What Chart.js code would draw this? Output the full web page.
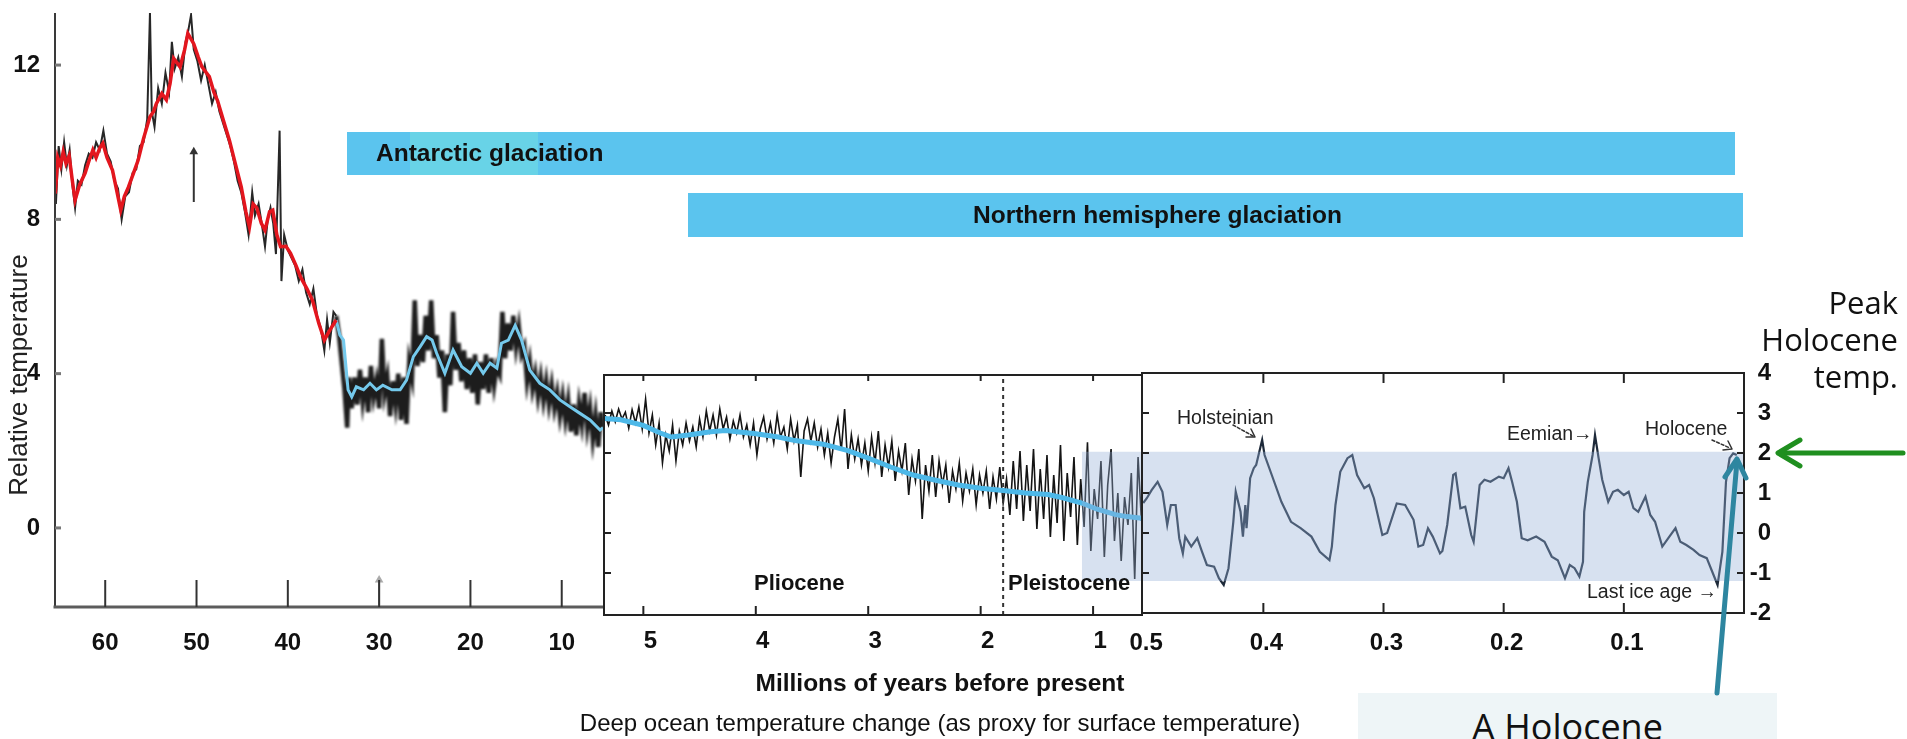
<!DOCTYPE html>
<html><head><meta charset="utf-8">
<script src="https://cdn.jsdelivr.net/npm/chart.js@4.4.1/dist/chart.umd.min.js"></script>
<style>
html,body{margin:0;padding:0;background:#fff;}
#wrap{position:relative;width:1907px;height:739px;overflow:hidden;background:#fff;font-family:'Liberation Sans',Arial,sans-serif;}
canvas{position:absolute;top:0;}
.t{position:absolute;white-space:nowrap;color:#111;}
.bar{position:absolute;background:#5BC4EE;}
.b{font-weight:bold;}
.cal{font-family:'Open Sans','Noto Sans',sans-serif;color:#111;}
svg{position:absolute;left:0;top:0;}
</style></head><body>
<div id="wrap">
 <div class="bar" style="left:347px;top:132px;width:1388px;height:43px;"></div>
 <div class="bar" style="left:410px;top:132px;width:128px;height:43px;background:#68D3E7;"></div>
 <div class="bar" style="left:688px;top:193px;width:1055px;height:44px;"></div>
 <canvas id="c1" width="620" height="739" style="left:0px"></canvas>
 <canvas id="c2" width="600" height="739" style="left:560px"></canvas>
 <canvas id="c3" width="700" height="739" style="left:1120px"></canvas>

 <div class="t b" style="left:376px;top:138px;font-size:24.5px;line-height:30px;">Antarctic glaciation</div>
 <div class="t b" style="left:973px;top:200px;font-size:24.5px;line-height:30px;">Northern hemisphere glaciation</div>
 <div class="t" style="left:-127px;top:359px;width:290px;text-align:center;font-size:26px;line-height:32px;color:#222;transform:rotate(-90deg);">Relative temperature</div>
 <div class="t b" style="left:754px;top:570px;font-size:22px;line-height:26px;">Pliocene</div>
 <div class="t b" style="left:1008px;top:570px;font-size:22px;line-height:26px;">Pleistocene</div>
 <div class="t b" style="left:640px;top:668px;width:600px;text-align:center;font-size:24.5px;line-height:30px;">Millions of years before present</div>
 <div class="t" style="left:490px;top:708px;width:900px;text-align:center;font-size:24px;line-height:30px;">Deep ocean temperature change (as proxy for surface temperature)</div>
 <div class="t" style="left:1177px;top:405px;font-size:19.5px;line-height:24px;color:#222;">Holsteinian</div>
 <div class="t" style="left:1507px;top:421px;font-size:19.5px;line-height:24px;color:#222;">Eemian&#8594;</div>
 <div class="t" style="left:1645px;top:416px;font-size:19.5px;line-height:24px;color:#222;">Holocene</div>
 <div class="t" style="left:1587px;top:579px;font-size:19.5px;line-height:24px;color:#222;">Last ice age &#8594;</div>
 <div class="t cal" style="right:9px;top:284px;font-size:31px;line-height:37px;text-align:right;">Peak<br>Holocene<br>temp.</div>
 <div class="t cal" style="left:1358px;top:693px;width:419px;height:60px;background:#EEF5F7;text-align:center;font-size:36px;line-height:44px;padding-top:12px;box-sizing:border-box;">A Holocene</div>

 <svg width="1907" height="739" viewBox="0 0 1907 739">
  <g fill="none" stroke-linecap="round" stroke-linejoin="round">
   <line x1="1903" y1="453" x2="1780" y2="453" stroke="#1F8F1F" stroke-width="5"/>
   <polyline points="1800,440 1778,453 1800,466" stroke="#1F8F1F" stroke-width="5"/>
   <line x1="1717" y1="693" x2="1737" y2="461" stroke="#2E86A0" stroke-width="5"/>
   <polyline points="1725,477 1737,459 1746,478" stroke="#2E86A0" stroke-width="5"/>
   <line x1="1233" y1="425" x2="1253" y2="436" stroke="#333" stroke-width="1.5" stroke-dasharray="3,2"/>
   <polyline points="1246,437 1255,437 1251,429" stroke="#333" stroke-width="1.5"/>
   <line x1="1712" y1="440" x2="1730" y2="448" stroke="#333" stroke-width="1.5" stroke-dasharray="3,2"/>
   <polyline points="1723,450 1732,449 1728,441" stroke="#333" stroke-width="1.5"/>
  </g>
 </svg>
</div>
<script>
// ---------- tick values ----------
const p1XTicks = [60, 50, 40, 30, 20, 10];
const p1YTicks = [12, 8, 4, 0];
const p2XTicks = [5, 4, 3, 2, 1];
const p23InnerYTicks = [3, 2, 1, 0, -1];
const p3XTicks = [0.5, 0.4, 0.3, 0.2, 0.1];
const p3YTicks = [4, 3, 2, 1, 0, -1, -2];

// ---------- panel 1 : 65-5.5 Myr (age, relative temperature) ----------
const p1Red = [[65.46,8.67],[65.2,9.6],[64.9,9.4],[64.6,9.75],[64.3,9.45],[63.95,9.65],[63.6,9.0],[63.3,8.5],[62.8,8.9],[62.2,9.2],[61.8,9.5],[61.35,9.8],[61.0,9.6],[60.6,9.85],[60.26,9.97],[59.8,9.6],[59.2,9.27],[58.7,8.7],[58.3,8.24],[57.9,8.6],[57.45,8.84],[56.9,9.2],[56.4,9.53],[55.8,10.1],[55.1,10.66],[54.7,10.8],[54.4,11.0],[53.8,11.26],[53.3,11.1],[52.9,11.52],[52.5,12.17],[51.8,11.95],[51.3,12.4],[50.95,12.82],[50.3,12.55],[49.8,12.2],[49.4,11.95],[48.6,11.7],[48.1,11.3],[47.7,11.08],[47.1,10.6],[46.4,10.05],[45.7,9.4],[45.1,8.84],[44.6,8.2],[44.2,7.8],[43.8,8.4],[43.4,8.3],[42.9,7.9],[42.5,7.72],[42.0,8.2],[41.65,8.24],[41.2,7.6],[40.8,7.29],[40.2,7.3],[39.7,7.12],[39.1,6.8],[38.6,6.5],[37.9,6.2],[37.3,5.9],[36.6,5.3],[36.0,4.87],[35.4,5.13],[34.7,5.39]];
const p1Blue = [[34.7,5.39],[34.3,5.0],[33.9,4.87],[33.4,3.58],[33.0,3.40],[32.5,3.66],[31.7,3.58],[31.0,3.75],[30.3,3.58],[29.6,3.70],[28.6,3.58],[27.7,3.58],[27.0,3.83],[26.25,4.44],[25.5,4.70],[24.8,4.96],[24.2,4.87],[23.7,4.53],[22.8,4.01],[21.9,4.61],[20.95,4.18],[20.0,4.01],[19.3,4.27],[18.6,4.01],[17.85,4.27],[17.1,4.14],[16.6,4.79],[15.85,4.87],[15.1,5.25],[14.4,4.87],[13.5,4.09],[12.4,3.75],[11.3,3.58],[10.2,3.32],[9.1,3.14],[8.0,2.97],[6.9,2.80],[5.8,2.54],[5.48,2.6]];
const p1Black = [[65.4,8.4],[65.1,9.9],[64.8,9.3],[64.5,10.0],[64.2,9.4],[63.9,9.8],[63.6,8.9],[63.3,8.3],[63.0,9.0],[62.6,8.9],[62.2,9.4],[61.8,9.7],[61.4,9.6],[61.0,10.0],[60.6,9.8],[60.2,10.3],[59.8,9.7],[59.4,9.5],[59.0,9.0],[58.6,8.8],[58.2,8.0],[57.8,8.6],[57.4,8.7],[57.0,9.2],[56.6,9.3],[56.2,9.9],[55.8,10.0],[55.4,10.6],[55.1,13.35],[54.9,10.8],[54.6,10.4],[54.2,11.4],[53.8,11.0],[53.4,11.8],[53.0,11.3],[52.7,12.6],[52.4,11.9],[52.0,12.2],[51.6,11.7],[51.2,12.6],[50.9,12.9],[50.6,13.3],[50.3,12.4],[49.9,12.1],[49.5,11.6],[49.1,12.0],[48.7,11.5],[48.3,11.0],[47.9,11.3],[47.5,10.8],[47.1,10.5],[46.7,10.2],[46.3,9.9],[45.9,9.5],[45.5,9.0],[45.1,8.7],[44.7,8.2],[44.3,7.6],[43.9,8.7],[43.6,8.1],[43.2,8.4],[42.8,7.8],[42.5,7.3],[42.2,8.0],[41.9,8.3],[41.6,7.9],[41.3,7.1],[40.9,10.3],[40.7,6.4],[40.4,7.6],[40.0,7.2],[39.6,7.0],[39.2,6.8],[38.8,6.4],[38.4,6.7],[38.0,6.1],[37.6,5.8],[37.2,6.2],[36.8,5.5],[36.4,5.2],[36.0,4.6],[35.7,5.4],[35.4,4.8],[35.0,5.6],[34.7,5.5],[34.4,5.0],[34.1,4.3],[33.8,3.6],[33.5,2.6],[33.3,3.9],[33.0,3.1],[32.7,3.9],[32.4,3.2],[32.1,4.1],[31.8,3.3],[31.5,3.9],[31.2,3.0],[30.9,4.2],[30.6,3.4],[30.3,3.8],[30.0,3.1],[29.7,4.9],[29.4,3.5],[29.1,3.9],[28.8,2.9],[28.5,3.8],[28.2,3.2],[27.9,4.0],[27.6,2.8],[27.3,3.9],[27.0,2.7],[26.7,4.3],[26.4,3.9],[26.1,5.9],[25.8,4.2],[25.5,5.0],[25.2,4.3],[24.9,5.5],[24.6,4.6],[24.3,5.9],[24.0,4.4],[23.7,5.0],[23.4,3.9],[23.1,4.6],[22.8,3.0],[22.5,4.5],[22.2,3.7],[21.9,5.6],[21.6,4.1],[21.3,4.8],[21.0,3.8],[20.7,4.6],[20.4,3.6],[20.1,4.4],[19.8,3.5],[19.5,4.5],[19.2,3.2],[18.9,4.3],[18.6,3.6],[18.3,4.5],[18.0,3.5],[17.7,4.4],[17.4,3.7],[17.1,4.2],[16.8,4.0],[16.5,5.6],[16.2,4.4],[15.9,5.3],[15.6,4.6],[15.3,5.5],[15.0,4.7],[14.7,5.2],[14.4,4.5],[14.1,4.7],[13.8,3.8],[13.5,4.3],[13.2,3.6],[12.9,4.0],[12.6,3.4],[12.3,3.9],[12.0,3.3],[11.7,3.8],[11.4,3.2],[11.1,3.7],[10.8,3.1],[10.5,3.5],[10.2,2.9],[9.9,3.4],[9.6,2.8],[9.3,3.3],[9.0,2.5],[8.7,3.2],[8.4,2.4],[8.1,3.2],[7.8,2.7],[7.5,3.5],[7.2,2.6],[6.9,3.1],[6.6,2.3],[6.3,2.9],[6.0,2.1],[5.7,3.0],[5.5,2.6]];
const p1ArrowDark = [[50.3,8.45],[50.3,9.75]];
const p1ArrowLight = [[30.0,-2.0],[30.0,-1.35]];
const antarcticOnset = 34.7; // where the record changes from red to blue

// ---------- panel 2 : 5.35-0.565 Myr ----------
const p2Blue = [[5.35,2.86],[5.2,2.83],[5.0,2.69],[4.85,2.5],[4.75,2.40],[4.6,2.45],[4.4,2.53],[4.27,2.56],[4.0,2.48],[3.8,2.40],[3.65,2.31],[3.4,2.22],[3.18,2.06],[3.0,1.87],[2.8,1.65],[2.6,1.45],[2.4,1.32],[2.2,1.2],[2.0,1.12],[1.8,1.06],[1.6,1.0],[1.4,0.96],[1.27,0.88],[1.1,0.75],[0.97,0.6],[0.8,0.46],[0.7,0.41],[0.565,0.37]];
const p2Black = [[5.34,2.95],[5.31,2.70],[5.28,3.05],[5.25,2.78],[5.22,3.10],[5.19,2.85],[5.16,3.02],[5.13,2.62],[5.10,3.08],[5.07,2.75],[5.04,3.15],[5.01,2.60],[4.98,3.35],[4.95,2.50],[4.92,2.95],[4.89,2.20],[4.86,2.75],[4.83,1.75],[4.80,2.45],[4.77,2.05],[4.74,2.70],[4.71,1.80],[4.68,2.55],[4.65,2.20],[4.62,2.75],[4.59,2.30],[4.56,2.65],[4.53,2.15],[4.50,2.85],[4.47,2.40],[4.44,3.05],[4.41,2.55],[4.38,2.95],[4.35,2.45],[4.32,3.10],[4.29,2.60],[4.26,2.90],[4.23,2.35],[4.20,2.80],[4.17,2.50],[4.14,2.95],[4.11,2.40],[4.08,2.70],[4.05,2.20],[4.02,2.75],[3.99,1.95],[3.96,2.60],[3.93,2.90],[3.90,2.35],[3.87,2.75],[3.84,2.25],[3.81,2.95],[3.78,2.40],[3.75,2.65],[3.72,2.10],[3.69,2.85],[3.66,2.30],[3.63,2.70],[3.60,1.40],[3.57,2.55],[3.54,2.85],[3.51,2.30],[3.48,2.75],[3.45,2.15],[3.42,2.60],[3.39,1.95],[3.36,2.50],[3.33,1.75],[3.30,2.40],[3.27,2.85],[3.24,2.05],[3.21,3.10],[3.18,1.60],[3.15,2.45],[3.12,1.85],[3.09,2.35],[3.06,1.70],[3.03,2.25],[3.00,1.55],[2.97,2.40],[2.94,1.75],[2.91,2.55],[2.88,1.40],[2.85,2.20],[2.82,1.65],[2.79,2.30],[2.76,1.30],[2.73,2.05],[2.70,1.55],[2.67,2.25],[2.64,0.95],[2.61,1.85],[2.58,1.30],[2.55,2.10],[2.52,0.35],[2.49,1.70],[2.46,1.05],[2.43,1.95],[2.40,0.90],[2.37,1.80],[2.34,1.20],[2.31,1.70],[2.28,0.75],[2.25,1.55],[2.22,1.10],[2.19,1.75],[2.16,0.80],[2.13,1.50],[2.10,1.05],[2.07,1.60],[2.04,0.70],[2.01,1.45],[1.98,1.00],[1.95,1.55],[1.92,0.60],[1.89,1.40],[1.86,0.85],[1.83,1.65],[1.80,0.75],[1.77,1.35],[1.74,0.45],[1.71,1.80],[1.68,0.60],[1.65,2.05],[1.62,0.30],[1.59,1.70],[1.56,0.55],[1.53,2.10],[1.50,0.10],[1.47,1.60],[1.44,0.35],[1.41,1.95],[1.38,-0.10],[1.35,1.45],[1.32,0.25],[1.29,2.20],[1.26,-0.20],[1.23,1.50],[1.20,0.40],[1.17,1.90],[1.14,-0.30],[1.11,1.35],[1.08,0.15],[1.05,2.27],[1.02,-0.45],[0.99,1.10],[0.96,0.35],[0.93,1.80],[0.90,-0.60],[0.87,1.20],[0.84,2.10],[0.81,-0.20],[0.78,1.00],[0.75,-0.70],[0.72,0.90],[0.69,0.20],[0.66,1.50],[0.63,-1.15],[0.60,1.90],[0.57,0.30]];
const pleistoceneStart = 1.8;

// ---------- panel 3 : 0.5-0 Myr ----------
const p3Curve = [[0.50,0.75],[0.497,0.87],[0.493,1.07],[0.488,1.28],[0.484,1.03],[0.480,0.2],[0.477,0.7],[0.473,0.7],[0.470,-0.13],[0.467,-0.51],[0.465,-0.09],[0.460,-0.34],[0.455,-0.13],[0.451,-0.47],[0.447,-0.8],[0.441,-0.84],[0.437,-1.13],[0.433,-1.3],[0.429,-0.88],[0.425,0.28],[0.423,1.03],[0.419,0.53],[0.417,-0.09],[0.415,0.7],[0.414,0.12],[0.411,1.37],[0.408,1.62],[0.406,1.7],[0.401,2.33],[0.399,1.95],[0.393,1.45],[0.385,0.78],[0.377,0.28],[0.369,0.12],[0.360,-0.09],[0.353,-0.47],[0.345,-0.68],[0.343,-0.34],[0.340,0.7],[0.336,1.53],[0.330,1.87],[0.326,1.95],[0.322,1.45],[0.316,1.12],[0.312,1.2],[0.308,0.87],[0.301,-0.05],[0.297,0.0],[0.289,0.74],[0.282,0.7],[0.275,0.33],[0.271,-0.34],[0.267,-0.3],[0.263,0.12],[0.259,-0.09],[0.253,-0.51],[0.251,-0.45],[0.247,0.2],[0.242,1.45],[0.240,1.49],[0.236,0.62],[0.232,0.66],[0.227,-0.05],[0.225,-0.22],[0.220,1.2],[0.216,1.33],[0.211,1.28],[0.204,1.41],[0.200,1.37],[0.196,1.62],[0.193,1.28],[0.189,0.78],[0.185,-0.13],[0.180,-0.18],[0.173,-0.09],[0.166,-0.22],[0.160,-0.59],[0.155,-0.68],[0.149,-1.13],[0.145,-0.8],[0.141,-0.88],[0.137,-1.09],[0.134,-0.72],[0.133,0.53],[0.130,1.28],[0.126,1.95],[0.124,2.45],[0.121,1.87],[0.118,1.33],[0.113,0.78],[0.109,1.03],[0.105,1.08],[0.100,0.95],[0.096,1.03],[0.092,0.62],[0.088,0.53],[0.082,0.91],[0.078,0.45],[0.074,0.28],[0.068,-0.34],[0.063,-0.13],[0.057,0.12],[0.053,-0.22],[0.048,-0.3],[0.042,-0.42],[0.037,-0.55],[0.031,-0.63],[0.026,-1.0],[0.022,-1.3],[0.018,-0.47],[0.015,1.28],[0.012,1.87],[0.009,1.99],[0.006,1.95]];

// shaded range: peak Holocene temperature down to last ice age
const bandTop = 2.03, bandBottom = -1.2;
const bandP2 = [1.1, 0.565];
const bandP3 = [0.501, 0.0];

// ---------- helpers ----------
const pts = a => a.map(([x, y]) => ({x, y}));
const FONT = "'Liberation Sans', Arial, sans-serif";
Chart.defaults.font.family = FONT;
const tickFontX = {family: FONT, size: 24, weight: 'bold'};
const tickFontY = {family: FONT, size: 24, weight: 'bold'};
const setTicks = arr => s => { s.ticks = arr.map(v => ({value: v})); };
const fixSize = (prop, val) => s => {
  s[prop] = val;
  s.paddingTop = 0; s.paddingBottom = 0; s.paddingLeft = 0; s.paddingRight = 0;
};

const framePlugin = {
  id: 'frame',
  beforeDatasetDraw(chart, args) {
    const ds = chart.data.datasets[args.index];
    chart.ctx.save();
    if (ds.blur) chart.ctx.filter = 'blur(' + ds.blur + 'px)';
  },
  afterDatasetDraw(chart) { chart.ctx.restore(); },
  afterDatasetsDraw(chart, args, opts) {
    const {ctx, chartArea: a, scales} = chart;
    ctx.save();
    ctx.lineCap = 'butt';
    (opts.lines || []).forEach(l => {
      ctx.strokeStyle = l.color; ctx.lineWidth = l.width;
      ctx.beginPath();
      if (l.side === 'left') { ctx.moveTo(a.left, a.top); ctx.lineTo(a.left, a.bottom + l.width / 2); }
      if (l.side === 'right') { ctx.moveTo(a.right, a.top - l.width / 2); ctx.lineTo(a.right, a.bottom + l.width / 2); }
      if (l.side === 'top') { ctx.moveTo(a.left - l.width / 2, a.top); ctx.lineTo(a.right + l.width / 2, a.top); }
      if (l.side === 'bottom') { ctx.moveTo(a.left - l.width / 2, a.bottom); ctx.lineTo(a.right + l.width / 2, a.bottom); }
      ctx.stroke();
    });
    (opts.ticks || []).forEach(t => {
      const sc = scales[t.scale];
      ctx.strokeStyle = t.color; ctx.lineWidth = t.width;
      t.values.forEach(v => {
        const p = sc.getPixelForValue(v);
        ctx.beginPath();
        if (t.side === 'bottom') { ctx.moveTo(p, a.bottom); ctx.lineTo(p, a.bottom - t.len); }
        if (t.side === 'top') { ctx.moveTo(p, a.top); ctx.lineTo(p, a.top + t.len); }
        if (t.side === 'left') { ctx.moveTo(a.left, p); ctx.lineTo(a.left + t.len, p); }
        if (t.side === 'right') { ctx.moveTo(a.right, p); ctx.lineTo(a.right - t.len, p); }
        ctx.stroke();
      });
    });
    ctx.restore();
  }
};

const baseOpts = (extra) => Object.assign({
  responsive: false, animation: false, events: [],
  elements: {point: {radius: 0}, line: {tension: 0}}
}, extra);

const lineDs = (data, color, width, extra) => Object.assign({
  data: pts(data), borderColor: color, borderWidth: width, pointRadius: 0, fill: false
}, extra || {});

const arrowDs = (data, color) => ({
  data: pts(data), borderColor: color, backgroundColor: color, borderWidth: 2,
  pointStyle: 'triangle', pointRadius: [0, 5], pointBorderWidth: 0, fill: false
});

const bandDs = (xs) => ({
  data: xs.map(x => ({x, y: bandTop})), borderWidth: 0, pointRadius: 0,
  fill: {target: {value: bandBottom}}, backgroundColor: 'rgba(150,176,215,0.38)'
});

const xAxis = (min, max, ticks, height, pad, labelOffset) => ({
  type: 'linear', reverse: true, min, max,
  afterBuildTicks: setTicks(ticks), afterFit: fixSize('height', height),
  grid: {display: false, drawTicks: false}, border: {display: false},
  ticks: {padding: pad, labelOffset: labelOffset || 0, font: tickFontX, color: '#111', autoSkip: false, maxRotation: 0, callback: v => String(v)}
});

// ---------- chart 1 (datasets listed top-most first) ----------
new Chart(document.getElementById('c1'), {
  type: 'line',
  data: {datasets: [
    arrowDs(p1ArrowDark, '#333'),
    arrowDs(p1ArrowLight, '#aaa'),
    lineDs(p1Red, '#E3161E', 3.5),
    lineDs(p1Blue, '#74C9EC', 3),
    lineDs(p1Black.filter(p => p[0] >= antarcticOnset), 'rgba(15,15,15,0.9)', 2, {blur: 0.6}),
    lineDs(p1Black.filter(p => p[0] <= antarcticOnset), 'rgba(10,10,10,0.92)', 4.5, {blur: 1.3})
  ]},
  options: baseOpts({
    layout: {padding: {top: 13, right: 17, left: 0, bottom: 0}},
    scales: {
      x: xAxis(5.48, 65.5, p1XTicks, 132, 22, 0),
      y: {type: 'linear', min: -2.05, max: 13.35,
          afterBuildTicks: setTicks(p1YTicks), afterFit: fixSize('width', 55),
          grid: {display: false, drawTicks: false}, border: {display: false},
          ticks: {padding: 15, font: tickFontY, color: '#111', callback: v => String(v)}}
    },
    plugins: {legend: {display: false}, tooltip: {enabled: false},
      frame: {
        lines: [{side: 'left', color: '#3a3a3a', width: 2}, {side: 'bottom', color: '#5c5c5c', width: 3}],
        ticks: [{scale: 'x', side: 'bottom', len: 27, values: p1XTicks, color: '#333', width: 2},
                {scale: 'y', side: 'left', len: 6, values: p1YTicks, color: '#777', width: 3}]
      }}
  }),
  plugins: [framePlugin]
});

// ---------- chart 2 ----------
new Chart(document.getElementById('c2'), {
  type: 'line',
  data: {datasets: [
    bandDs(bandP2),
    lineDs(p2Blue, '#4DB8E8', 5),
    lineDs([[pleistoceneStart, -2.05], [pleistoceneStart, 3.95]], '#333', 2, {borderDash: [4, 4]}),
    lineDs(p2Black, '#141414', 1.6)
  ]},
  options: baseOpts({
    layout: {padding: {top: 375, right: 18, left: 44, bottom: 0}},
    scales: {
      x: xAxis(0.565, 5.35, p2XTicks, 124, 12, 7),
      y: {type: 'linear', display: false, min: -2.05, max: 3.95}
    },
    plugins: {legend: {display: false}, tooltip: {enabled: false},
      frame: {
        lines: [{side: 'left', color: '#222', width: 2}, {side: 'top', color: '#222', width: 2},
                {side: 'bottom', color: '#222', width: 2}, {side: 'right', color: '#222', width: 2}],
        ticks: [{scale: 'x', side: 'bottom', len: 9, values: p2XTicks, color: '#222', width: 2},
                {scale: 'x', side: 'top', len: 6, values: p2XTicks, color: '#222', width: 2},
                {scale: 'y', side: 'left', len: 7, values: p23InnerYTicks, color: '#222', width: 2}]
      }}
  }),
  plugins: [framePlugin]
});

// ---------- chart 3 ----------
new Chart(document.getElementById('c3'), {
  type: 'line',
  data: {datasets: [
    bandDs(bandP3),
    lineDs(p3Curve, '#1E2A3A', 2.2)
  ]},
  options: baseOpts({
    layout: {padding: {top: 373, right: 49, left: 22, bottom: 0}},
    scales: {
      x: xAxis(0, 0.501, p3XTicks, 126, 16, 3),
      y: {type: 'linear', position: 'right', min: -2, max: 4,
          afterBuildTicks: setTicks(p3YTicks), afterFit: fixSize('width', 27),
          grid: {display: false, drawTicks: false}, border: {display: false},
          ticks: {padding: 0, crossAlign: 'far', font: tickFontY, color: '#111', callback: v => String(v)}}
    },
    plugins: {legend: {display: false}, tooltip: {enabled: false},
      frame: {
        lines: [{side: 'left', color: '#222', width: 2}, {side: 'top', color: '#222', width: 2},
                {side: 'bottom', color: '#222', width: 2}, {side: 'right', color: '#222', width: 2}],
        ticks: [{scale: 'x', side: 'bottom', len: 10, values: p3XTicks.slice(1), color: '#222', width: 2},
                {scale: 'x', side: 'top', len: 10, values: p3XTicks.slice(1), color: '#222', width: 2},
                {scale: 'y', side: 'right', len: 7, values: p23InnerYTicks, color: '#222', width: 2},
                {scale: 'y', side: 'left', len: 7, values: p23InnerYTicks, color: '#222', width: 2}]
      }}
  }),
  plugins: [framePlugin]
});
</script>
</body></html>
